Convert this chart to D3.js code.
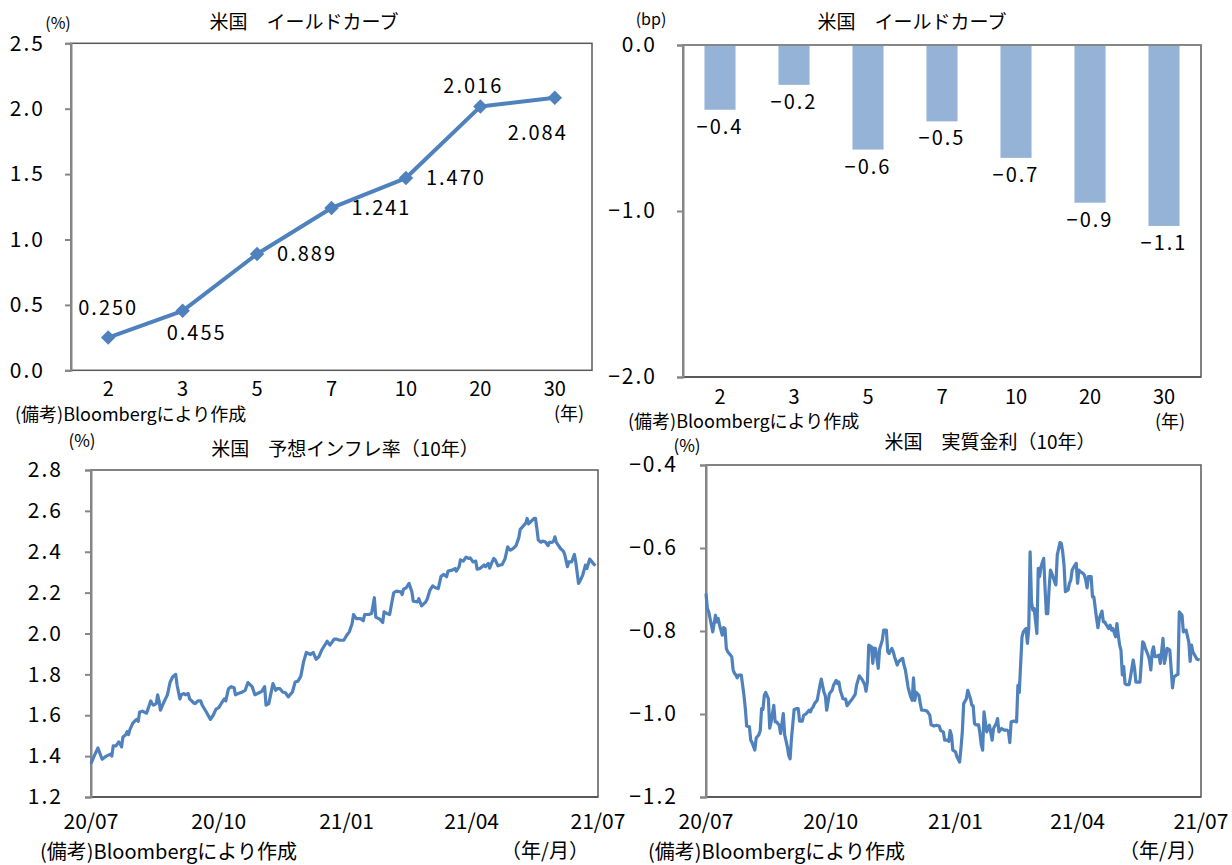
<!DOCTYPE html>
<html><head><meta charset="utf-8">
<script src="https://cdn.jsdelivr.net/npm/d3@7"></script>
<style>
body{margin:0;background:#fff}
svg text{font-family:"Noto Sans CJK JP","Noto Sans",sans-serif;fill:#000}
</style></head>
<body><svg id="chart" width="1232" height="865"></svg>
<script>
// ---------------- DATA ----------------
const maturities = ["2","3","5","7","10","20","30"];
const yieldLevels = [0.250,0.455,0.889,1.241,1.470,2.016,2.084];
const yieldLabelPlacement = ["above","below-right","right","right","right","above-left","below-left"];
const yieldChanges = [-0.39,-0.24,-0.63,-0.46,-0.68,-0.95,-1.09];
const levelTicks = [0,0.5,1.0,1.5,2.0,2.5];
const changeTicks = [0,-1,-2];

const seriesStart = "2020-07-01";
const seriesEnd = "2021-07-01";
const dateTicks = ["2020-07-01","2020-10-01","2021-01-01","2021-04-01","2021-07-01"];

// expected inflation (10y): day offset from seriesStart, value (%)
const inflDays = [
0,2,5,8,11,14,15,16,18,20,
21,22,23,25,26,27,28,30,32,33,
34,35,37,40,41,43,44,45,47,48,
49,50,52,55,57,59,61,62,64,65,
67,68,70,71,74,75,77,79,80,83,
86,88,90,92,94,96,97,99,101,103,
104,106,109,111,113,116,118,121,123,125,
126,128,129,131,133,134,136,138,140,142,
145,147,149,151,153,155,158,160,162,164,
166,169,170,172,175,177,179,182,184,186,
188,189,191,194,196,197,200,202,204,205,
207,208,210,211,213,215,217,218,220,223,
224,225,227,229,231,232,235,236,238,241,
242,244,246,248,250,252,254,256,257,260,
262,263,265,266,268,270,272,273,275,277,
278,280,283,284,286,287,289,290,291,293,
296,298,300,301,302,304,306,308,309,310,
313,314,315,317,319,320,321,322,324,325,
327,329,330,332,333,334,335,338,340,341,
343,344,346,348,349,351,352,354,356,357,
359,361,363];
const inflValues = [
1.363,1.396,1.440,1.385,1.400,1.410,1.400,1.450,1.450,1.470,
1.460,1.445,1.494,1.505,1.520,1.505,1.530,1.560,1.575,1.580,
1.570,1.616,1.620,1.610,1.630,1.670,1.657,1.650,1.657,1.700,
1.670,1.625,1.657,1.700,1.763,1.790,1.800,1.747,1.680,1.700,
1.706,1.700,1.706,1.680,1.660,1.657,1.670,1.670,1.650,1.616,
1.580,1.600,1.630,1.637,1.660,1.680,1.670,1.730,1.740,1.735,
1.700,1.706,1.714,1.722,1.760,1.740,1.700,1.710,1.717,1.740,
1.649,1.657,1.690,1.755,1.722,1.730,1.730,1.714,1.710,1.690,
1.714,1.763,1.767,1.790,1.860,1.907,1.897,1.907,1.874,1.886,
1.918,1.950,1.962,1.943,1.972,1.972,1.967,1.967,1.990,2.008,
2.049,2.093,2.073,2.073,2.062,2.093,2.093,2.098,2.175,2.080,
2.073,2.070,2.054,2.106,2.098,2.093,2.168,2.200,2.207,2.204,
2.190,2.217,2.224,2.245,2.204,2.158,2.155,2.170,2.135,2.155,
2.168,2.212,2.233,2.224,2.220,2.280,2.289,2.278,2.305,2.310,
2.318,2.305,2.327,2.360,2.354,2.374,2.367,2.370,2.350,2.354,
2.315,2.318,2.335,2.327,2.343,2.320,2.354,2.367,2.360,2.331,
2.338,2.364,2.424,2.413,2.408,2.416,2.430,2.469,2.510,2.517,
2.540,2.563,2.536,2.550,2.563,2.563,2.514,2.457,2.446,2.452,
2.449,2.430,2.446,2.446,2.452,2.473,2.446,2.416,2.403,2.387,
2.327,2.350,2.350,2.387,2.350,2.245,2.256,2.286,2.335,2.318,
2.364,2.348,2.331];
const inflTicks = [1.2,1.4,1.6,1.8,2.0,2.2,2.4,2.6,2.8];

// real yield (10y): day offset from seriesStart, value (%)
const realDays = [
0,1,2,3,4,5,7,8,9,10,
12,13,14,15,16,18,19,20,21,22,
23,24,26,28,29,30,32,33,34,36,
37,39,40,41,42,43,44,46,47,48,
50,51,52,54,55,56,57,58,60,61,
62,63,65,67,68,69,71,72,74,76,
77,78,79,80,82,84,85,87,88,89,
91,93,94,96,97,98,99,101,102,103,
104,106,108,110,111,113,115,117,118,119,
120,122,123,124,125,127,128,130,131,133,
134,135,137,138,139,141,142,144,145,146,
147,149,150,151,152,153,154,155,157,158,
159,161,163,165,166,168,170,172,173,175,
176,178,179,180,181,182,184,185,187,188,
189,190,192,193,195,196,197,198,199,201,
202,203,204,205,206,207,209,211,212,214,
215,216,218,220,222,223,224,225,227,229,
230,231,233,234,236,237,238,239,240,241,
242,244,245,246,247,249,250,251,252,253,
254,255,257,258,259,261,262,263,264,265,
267,268,269,270,272,273,274,275,276,278,
279,280,281,282,284,285,286,288,289,290,
292,293,294,295,297,298,299,300,302,303,
304,305,306,307,308,309,310,312,313,315,
316,317,319,320,322,323,324,326,327,328,
329,330,331,332,334,335,337,338,339,340,
342,344,345,347,348,349,351,352,353,354,
356,357,358,359,361,362,364];
const realValues = [
-0.710,-0.746,-0.754,-0.770,-0.786,-0.802,-0.762,-0.778,-0.770,-0.786,
-0.810,-0.792,-0.794,-0.842,-0.850,-0.858,-0.862,-0.894,-0.902,-0.906,
-0.913,-0.906,-0.906,-0.955,-0.987,-1.029,-1.031,-1.063,-1.069,-1.087,
-1.058,-1.050,-1.040,-0.987,-0.989,-0.955,-0.948,-0.963,-1.034,-1.019,
-0.979,-1.019,-1.019,-1.027,-1.047,-1.023,-0.999,-1.050,-1.079,-1.100,
-1.108,-1.060,-0.989,-0.987,-0.987,-1.017,-1.017,-1.003,-0.999,-0.991,
-0.995,-0.987,-0.983,-0.975,-0.967,-0.931,-0.916,-0.948,-0.956,-0.991,
-0.951,-0.943,-0.931,-0.919,-0.927,-0.923,-0.943,-0.963,-0.964,-0.964,
-0.980,-0.971,-0.963,-0.953,-0.931,-0.908,-0.916,-0.929,-0.945,-0.923,
-0.834,-0.838,-0.878,-0.841,-0.842,-0.890,-0.844,-0.822,-0.798,-0.798,
-0.850,-0.854,-0.842,-0.849,-0.862,-0.882,-0.874,-0.868,-0.866,-0.882,
-0.894,-0.935,-0.948,-0.959,-0.967,-0.913,-0.967,-0.948,-0.955,-0.975,
-0.991,-0.991,-0.993,-1.003,-1.026,-1.029,-1.027,-1.029,-1.040,-1.043,
-1.063,-1.063,-1.066,-1.040,-1.051,-1.087,-1.091,-1.103,-1.116,-1.083,
-1.043,-0.975,-0.963,-0.943,-0.963,-0.979,-0.980,-1.023,-1.026,-1.026,
-1.047,-1.075,-1.087,-0.995,-1.019,-1.043,-1.027,-1.063,-1.035,-1.023,
-1.011,-1.043,-1.035,-1.039,-1.039,-1.042,-1.069,-1.019,-1.017,-1.019,
-0.931,-0.948,-0.814,-0.802,-0.794,-0.830,-0.794,-0.609,-0.730,-0.750,
-0.746,-0.806,-0.649,-0.669,-0.645,-0.625,-0.697,-0.758,-0.758,-0.697,
-0.653,-0.661,-0.681,-0.689,-0.617,-0.587,-0.589,-0.609,-0.641,-0.705,
-0.701,-0.685,-0.677,-0.653,-0.641,-0.637,-0.685,-0.653,-0.657,-0.661,
-0.665,-0.677,-0.696,-0.669,-0.669,-0.718,-0.718,-0.770,-0.792,-0.770,
-0.752,-0.778,-0.778,-0.784,-0.794,-0.786,-0.798,-0.794,-0.814,-0.782,
-0.810,-0.834,-0.846,-0.906,-0.886,-0.927,-0.929,-0.929,-0.911,-0.870,
-0.890,-0.923,-0.923,-0.923,-0.826,-0.830,-0.842,-0.858,-0.870,-0.894,
-0.850,-0.838,-0.862,-0.862,-0.858,-0.878,-0.818,-0.878,-0.862,-0.842,
-0.846,-0.937,-0.911,-0.906,-0.905,-0.754,-0.762,-0.802,-0.800,-0.798,
-0.826,-0.873,-0.834,-0.850,-0.862,-0.868,-0.870];
const realTicks = [-1.2,-1.0,-0.8,-0.6,-0.4];

// ---------------- DRAWING ----------------
const svg = d3.select("#chart");
const LINE = "#4F81BD", BAR = "#95B3D7", FRAME = "#595959", AXIS = "#868686";
const numLS = "2px";
const parse = d3.timeParse("%Y-%m-%d");
const fmt1 = d3.format(".1f");
const fmt3 = d3.format(".3f");

function txt(x, y, s, size, anchor, ls){
  return svg.append("text").attr("x", x).attr("y", y).attr("dy", "0.35em")
    .attr("font-size", size).attr("text-anchor", anchor || "middle")
    .style("letter-spacing", ls || "0px").text(s);
}

function frame(b){
  svg.append("rect").attr("x", b.l).attr("y", b.t).attr("width", b.r - b.l).attr("height", b.b - b.t)
    .attr("fill", "none").attr("stroke", FRAME).attr("stroke-width", 1.5);
}

function leftAxis(b, y, ticks, format, pad, size){
  const g = svg.append("g").attr("transform", `translate(${b.l},0)`)
    .call(d3.axisLeft(y).tickValues(ticks).tickFormat(format).tickSize(6).tickPadding(pad));
  g.select(".domain").attr("stroke", AXIS).attr("stroke-width", 2);
  g.selectAll(".tick line").attr("stroke", AXIS).attr("stroke-width", 2);
  g.selectAll(".tick text").attr("font-size", size).attr("font-family", null)
    .style("letter-spacing", numLS).attr("fill", "#000");
  return g;
}

// ---- Panel 1: yield curve level ----
{
  const b = {l:71, r:592, t:43.3, b:370.3};
  const x = d3.scalePoint().domain(maturities).range([b.l, b.r]).padding(0.5);
  const y = d3.scaleLinear().domain([0, 2.5]).range([b.b, b.t]);
  frame(b);
  leftAxis(b, y, levelTicks, fmt1, 20, 21);
  maturities.forEach(m => txt(x(m), 389, m, 20));
  const pts = maturities.map((m, i) => ({m, v: yieldLevels[i], p: yieldLabelPlacement[i]}));
  svg.append("path").datum(pts).attr("fill", "none").attr("stroke", LINE).attr("stroke-width", 4)
    .attr("stroke-linejoin", "round")
    .attr("d", d3.line().x(d => x(d.m)).y(d => y(d.v)));
  svg.selectAll(".dia").data(pts).join("path")
    .attr("transform", d => `translate(${x(d.m)},${y(d.v)}) rotate(45)`)
    .attr("d", d3.symbol(d3.symbolSquare, 105)).attr("fill", LINE);
  pts.forEach(d => {
    const px = x(d.m), py = y(d.v), s = fmt3(d.v);
    if (d.p === "above") txt(px, py - 30, s, 20, "middle", numLS);
    else if (d.p === "above-left") txt(px - 7, py - 21, s, 20, "middle", numLS);
    else if (d.p === "below-right") txt(px + 14, py + 22, s, 20, "middle", numLS);
    else if (d.p === "below-left") txt(px - 17, py + 35, s, 20, "middle", numLS);
    else txt(px + 20, py, s, 20, "start", numLS);
  });
  txt(304, 22, "米国　イールドカーブ", 19);
  txt(58, 23, "(%)", 16);
  txt(15, 415, "(備考)Bloombergにより作成", 18, "start");
  txt(569, 414, "(年)", 18);
}

// ---- Panel 2: yield curve change (bars) ----
{
  const b = {l:683, r:1201, t:45, b:377};
  const x = d3.scaleBand().domain(maturities).range([b.l, b.r]).paddingInner(0.58).paddingOuter(0.29);
  const y = d3.scaleLinear().domain([-2, 0]).range([b.b, b.t]);
  frame(b);
  svg.selectAll(".bar").data(maturities).join("rect")
    .attr("x", m => x(m)).attr("width", x.bandwidth())
    .attr("y", y(0)).attr("height", (m, i) => y(yieldChanges[i]) - y(0))
    .attr("fill", BAR);
  svg.append("line").attr("x1", b.l).attr("x2", b.r).attr("y1", y(0)).attr("y2", y(0))
    .attr("stroke", AXIS).attr("stroke-width", 2);
  svg.append("line").attr("x1", b.l).attr("x2", b.r).attr("y1", b.b).attr("y2", b.b)
    .attr("stroke", FRAME).attr("stroke-width", 2);
  leftAxis(b, y, changeTicks, fmt1, 20, 21);
  maturities.forEach((m, i) => {
    txt(x(m) + x.bandwidth() / 2, y(yieldChanges[i]) + 17, fmt1(yieldChanges[i]), 20, "middle", numLS);
    txt(x(m) + x.bandwidth() / 2, 397, m, 20);
  });
  txt(912, 22, "米国　イールドカーブ", 19);
  txt(651, 19, "(bp)", 16);
  txt(628, 422, "(備考)Bloombergにより作成", 18, "start");
  txt(1170, 422, "(年)", 18);
}

// ---- time series panels ----
function timePanel(b, days, values, yDom, ticks, title, titleX, titleY, unitX, unitY, noteX, ymX){
  const x = d3.scaleTime().domain([parse(seriesStart), parse(seriesEnd)]).range([b.l, b.r]);
  const y = d3.scaleLinear().domain(yDom).range([b.b, b.t]);
  frame(b);
  svg.append("line").attr("x1", b.l).attr("x2", b.r).attr("y1", b.b).attr("y2", b.b)
    .attr("stroke", FRAME).attr("stroke-width", 2);
  leftAxis(b, y, ticks, fmt1, 22, 21);
  const base = parse(seriesStart);
  const pts = days.map((d, i) => ({date: d3.timeDay.offset(base, d), v: values[i]}));
  svg.append("path").datum(pts).attr("fill", "none").attr("stroke", LINE).attr("stroke-width", 3.2)
    .attr("stroke-linejoin", "round")
    .attr("d", d3.line().x(d => x(d.date)).y(d => y(d.v)));
  const tf = d3.timeFormat("%y/%m");
  dateTicks.forEach(t => txt(x(parse(t)), 822, tf(parse(t)), 21));
  txt(titleX, titleY, title, 19);
  txt(unitX, unitY, "(%)", 17);
  txt(noteX, 852, "(備考)Bloombergにより作成", 20, "start");
  txt(ymX, 851, "（年/月）", 20);
}

timePanel({l:91, r:598, t:470, b:797}, inflDays, inflValues, [1.2, 2.8], inflTicks,
  "米国　予想インフレ率（10年）", 345, 449, 82, 441, 40, 545);
timePanel({l:706, r:1201, t:465, b:797}, realDays, realValues, [-1.2, -0.4], realTicks,
  "米国　実質金利（10年）", 990, 442, 687, 446, 648, 1163);
</script></body></html>
